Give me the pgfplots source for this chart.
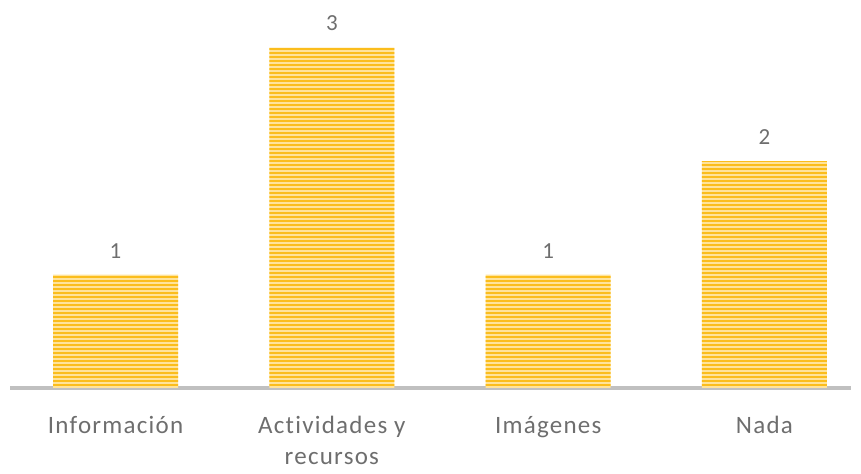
\documentclass[border=0pt]{standalone}
\usepackage{pgfplots}
\pgfplotsset{compat=1.18}
\usepackage{fontspec}
\setmainfont[Ligatures=NoCommon]{Carlito}
\usetikzlibrary{patterns}
\pgfdeclarepatternformonly{hstripes}{\pgfpoint{-1pt}{0pt}}{\pgfpoint{201pt}{4pt}}{\pgfpoint{200pt}{4pt}}{%
  \pgfpathrectangle{\pgfpoint{-1pt}{0pt}}{\pgfpoint{202pt}{2pt}}\pgfusepath{fill}}
\definecolor{txt}{HTML}{6E6E6E}
\definecolor{axisgray}{HTML}{C0C0C0}
\definecolor{barlight}{HTML}{FFE39A}
\definecolor{bargold}{HTML}{FBBD1C}
\begin{document}
\begin{tikzpicture}
\begin{axis}[
  scale only axis,
  width=841pt, height=388pt,
  xmin=-0.488, xmax=3.40,
  ymin=0, ymax=3.42,
  axis x line*=bottom,
  axis y line=none,
  x axis line style={draw=axisgray, line width=3.5pt, -},
  xtick=data,
  xticklabels={Información, {Actividades y\\recursos}, Imágenes, Nada},
  major tick length=0pt,
  xticklabel style={align=center, font=\fontsize{25}{31}\selectfont\addfontfeature{LetterSpace=5}, text=txt, anchor=north, yshift=-25pt},
  ytick=\empty,
  ybar, bar width=0.578,
  /pgf/number format/assume math mode=true,
  nodes near coords,
  every node near coord/.append style={font=\fontsize{23}{27}\selectfont, text=txt, anchor=south, yshift=13pt},
  clip=false,
]
\addplot[draw=none, fill=barlight, postaction={pattern=hstripes, pattern color=bargold}]
  coordinates {(0,1) (1,3) (2,1) (3,2)};
\end{axis}
\path[use as bounding box] ([xshift=-10pt,yshift=-86pt]current axis.south west) rectangle ([xshift=10pt]current axis.north east);
\end{tikzpicture}
\end{document}
